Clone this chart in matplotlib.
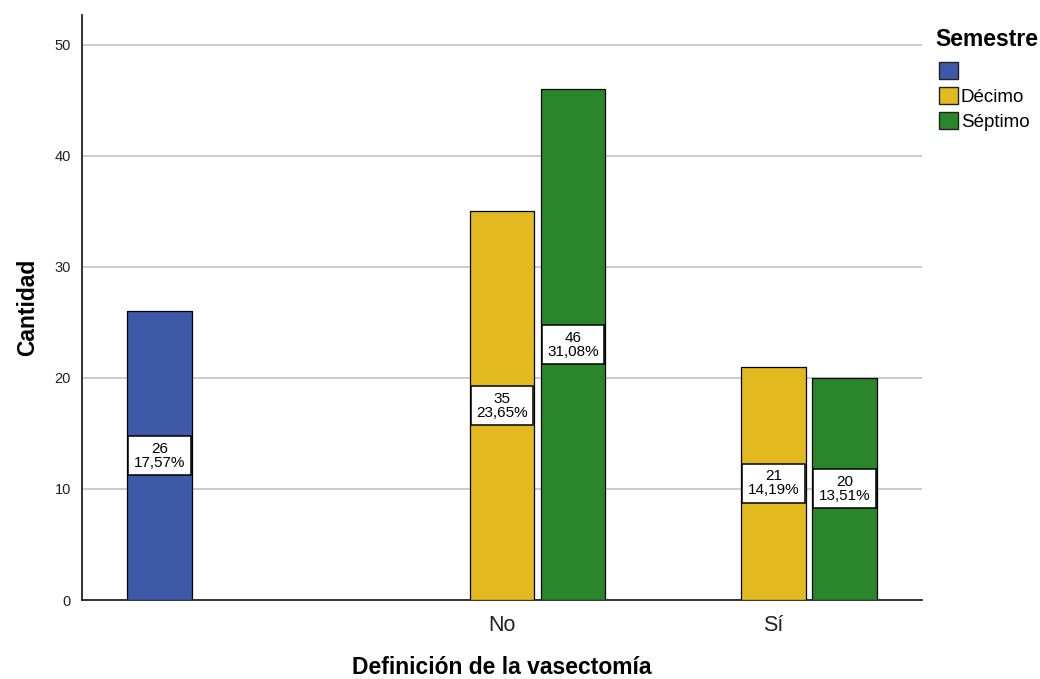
import matplotlib
matplotlib.use("Agg")
import matplotlib.pyplot as plt
from matplotlib.patches import Patch

plt.rcParams["font.family"] = ["Liberation Sans", "DejaVu Sans"]

# Counts per category of "Definición de la vasectomía", one list per semester group
categories = ["", "No", "Sí"]
series_names = ["", "Décimo", "Séptimo"]
counts_blank = [26, None, None]
counts_decimo = [None, 35, 21]
counts_septimo = [None, 46, 20]
series_counts = [counts_blank, counts_decimo, counts_septimo]
series_colors = ["#3F59A9", "#E2BA20", "#2A862A"]

total = sum(v for s in series_counts for v in s if v is not None)

W, H = 1040, 679
fig = plt.figure(figsize=(W / 100, H / 100), dpi=100)
ax = fig.add_axes([82 / W, 1 - 600 / H, 840 / W, 585 / H])

slot = 0.2615
bar_w = 0.239
for i, (vals, color) in enumerate(zip(series_counts, series_colors)):
    for j, v in enumerate(vals):
        if v is None:
            continue
        x = j + (i - 1) * slot
        ax.bar(x, v, width=bar_w, color=color, edgecolor="black",
               linewidth=0.9, zorder=3)
        pct = f"{100 * v / total:.2f}".replace(".", ",")
        ax.text(x, v / 2, f"{v}\n{pct}%", ha="center", va="center",
                fontsize=11, linespacing=1.0, zorder=4,
                bbox=dict(boxstyle="square,pad=0.36", facecolor="white",
                          edgecolor="black", linewidth=1.1))

ax.set_xlim(-0.547, 2.547)
ax.set_ylim(0, 52.7)
ax.set_xticks(range(len(categories)))
ax.set_xticklabels(categories, fontsize=15.5, color="#222222")
ax.set_yticks([0, 10, 20, 30, 40, 50])
ax.tick_params(axis="y", length=0, pad=8, labelsize=10.5, labelcolor="#222222")
ax.tick_params(axis="x", length=0, pad=11)

for yv in [10, 20, 30, 40, 50]:
    ax.axhline(yv, color="#BDBDBD", linewidth=1.1, zorder=1)

for side in ["top", "right"]:
    ax.spines[side].set_visible(False)
for side in ["left", "bottom"]:
    ax.spines[side].set_linewidth(1.3)
    ax.spines[side].set_color("#222222")

ax.set_xlabel("Definición de la vasectomía", fontsize=16.5, fontweight="bold",
              labelpad=14)
ax.set_ylabel("Cantidad", fontsize=16.5, fontweight="bold", labelpad=11)

# Legend: bold heading plus one square swatch per semester group
fig.text(935 / W, 1 - 46 / H, "Semestre", fontsize=16.5, fontweight="bold",
         ha="left", va="baseline")
handles = [Patch(facecolor=c, edgecolor="#222222", linewidth=1.0)
           for c in series_colors]
fig.legend(handles, series_names, loc="upper left",
           bbox_to_anchor=(939 / W, 1 - 62 / H), frameon=False,
           fontsize=13.5, handlelength=1.02, handleheight=1.02,
           handletextpad=0.15, labelspacing=0.33, borderaxespad=0,
           borderpad=0)

fig.savefig("out.png", dpi=100)
